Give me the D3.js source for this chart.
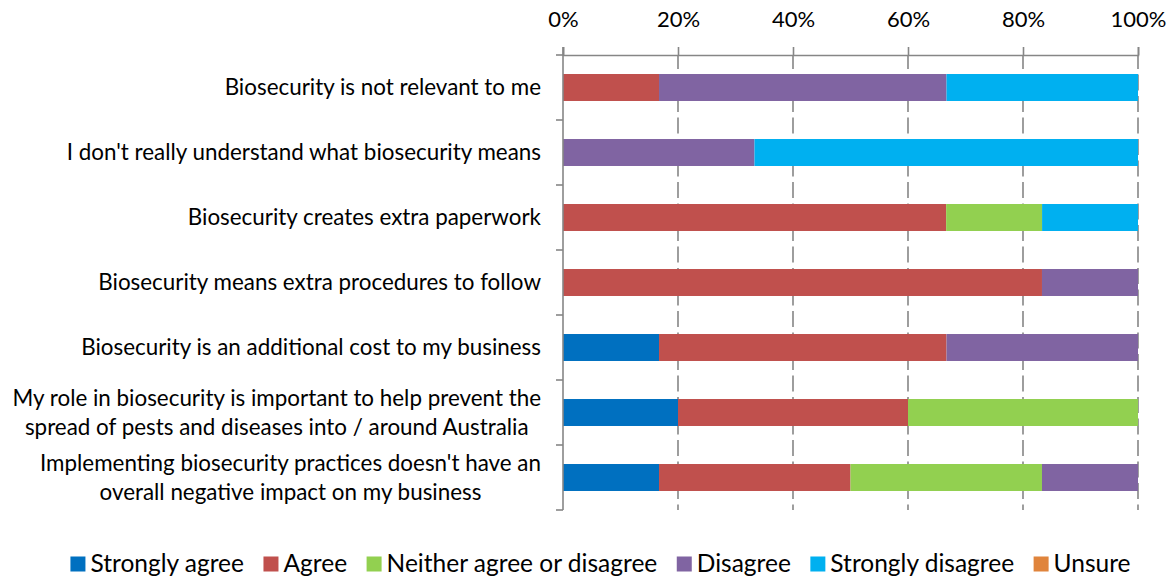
<!DOCTYPE html>
<html>
<head>
<meta charset="utf-8">
<script src="https://cdn.jsdelivr.net/npm/d3@7"></script>
<style>
  html, body { margin: 0; padding: 0; background: #fff; }
  svg { display: block; font-family: Lato, "Open Sans", sans-serif; }
</style>
</head>
<body>
<svg id="chart" width="1176" height="578"></svg>
<script>
// Survey statements (top to bottom); "\n" marks a line break in the label
const categories = [
  "Biosecurity is not relevant to me",
  "I don't really understand what biosecurity means",
  "Biosecurity creates extra paperwork",
  "Biosecurity means extra procedures to follow",
  "Biosecurity is an additional cost to my business",
  "My role in biosecurity is important to help prevent the\nspread of pests and diseases into / around Australia",
  "Implementing biosecurity practices doesn't have an\noverall negative impact on my business"
];

// Share of responses (%) per statement
const stronglyAgree    = [0,    0,    0,    0,    16.7, 20, 16.7];
const agree            = [16.7, 0,    66.7, 83.3, 50,   40, 33.3];
const neither          = [0,    0,    16.7, 0,    0,    40, 33.3];
const disagree         = [50,   33.3, 0,    16.7, 33.3, 0,  16.7];
const stronglyDisagree = [33.3, 66.7, 16.7, 0,    0,    0,  0];
const unsure           = [0,    0,    0,    0,    0,    0,  0];

const seriesNames = ["Strongly agree", "Agree", "Neither agree or disagree", "Disagree", "Strongly disagree", "Unsure"];
const seriesValues = [stronglyAgree, agree, neither, disagree, stronglyDisagree, unsure];
const seriesColors = ["#0070C0", "#C0504D", "#92D050", "#8064A2", "#00B0F0", "#E0843C"];

const tickValues = [0, 0.2, 0.4, 0.6, 0.8, 1];

// Rows for d3.stack
const rows = categories.map((c, i) => {
  const r = { category: c };
  seriesNames.forEach((s, j) => { r[s] = seriesValues[j][i]; });
  return r;
});

const stacked = d3.stack()
  .keys(seriesNames)
  .offset(d3.stackOffsetExpand)(rows);

const svg = d3.select("#chart");
const margin = { top: 55, left: 563, right: 38 };
const W = 1176;
const plotBottom = margin.top + 65 * categories.length;

const x = d3.scaleLinear().domain([0, 1]).range([margin.left, W - margin.right]);
const y = d3.scaleBand().domain(categories).range([margin.top, plotBottom]).paddingInner(0.585).paddingOuter(0.2925);

const labelSize = 22.4;
const tickSize = 22;
const legendSize = 24.5;
const gridColor = "#868686";

// Dashed vertical gridlines
svg.append("g")
  .selectAll("line")
  .data(tickValues.slice(1))
  .join("line")
  .attr("x1", d => x(d)).attr("x2", d => x(d))
  .attr("y1", margin.top).attr("y2", plotBottom)
  .attr("stroke", gridColor)
  .attr("stroke-width", 1.6)
  .attr("stroke-dasharray", "16,5.5")
  .attr("stroke-dashoffset", 2);

// Stacked bars
svg.append("g")
  .selectAll("g")
  .data(stacked)
  .join("g")
  .attr("fill", (d, i) => seriesColors[i])
  .selectAll("rect")
  .data(d => d)
  .join("rect")
  .attr("x", d => x(d[0]))
  .attr("width", d => Math.max(0, x(d[1]) - x(d[0])))
  .attr("y", d => y(d.data.category))
  .attr("height", y.bandwidth());

// Top percentage axis
const xAxis = svg.append("g")
  .attr("transform", `translate(0,${margin.top})`)
  .call(d3.axisTop(x).tickValues(tickValues).tickFormat(d3.format(".0%")).tickSize(8).tickPadding(20));
xAxis.select(".domain").attr("stroke", gridColor).attr("stroke-width", 1.6);
xAxis.selectAll(".tick line").attr("stroke", gridColor).attr("stroke-width", 1.6);
xAxis.selectAll(".tick text")
  .attr("fill", "#000")
  .style("font-size", tickSize + "px")
  .style("font-family", "Lato, 'Open Sans', sans-serif");

// Left category axis: line plus boundary ticks between rows
const yAxis = svg.append("g");
yAxis.append("line")
  .attr("x1", margin.left).attr("x2", margin.left)
  .attr("y1", margin.top - 8).attr("y2", plotBottom)
  .attr("stroke", gridColor).attr("stroke-width", 1.6);
const boundaries = d3.range(categories.length + 1).map(i => margin.top + i * y.step());
yAxis.selectAll("line.tick")
  .data(boundaries)
  .join("line")
  .attr("class", "tick")
  .attr("x1", margin.left - 7).attr("x2", margin.left)
  .attr("y1", d => d).attr("y2", d => d)
  .attr("stroke", gridColor).attr("stroke-width", 1.6);

// Category labels: block right-aligned at the axis, wrapped lines centred within the block
const lineHeight = 29;
const labelRight = margin.left - 22;
const labels = svg.append("g")
  .selectAll("text")
  .data(categories)
  .join("text")
  .attr("fill", "#000")
  .style("font-size", labelSize + "px");
labels.each(function(d) {
  const lines = d.split("\n");
  const cy = y(d) + y.bandwidth() / 2;
  const t = d3.select(this);
  const spans = lines.map((ln, k) => t.append("tspan")
    .attr("y", cy + (k - (lines.length - 1) / 2) * lineHeight)
    .attr("dy", "0.35em")
    .text(ln));
  const maxW = d3.max(spans, s => s.node().getComputedTextLength());
  t.attr("text-anchor", "middle");
  spans.forEach(s => s.attr("x", labelRight - maxW / 2));
});

// Legend along the bottom, centred
const legend = svg.append("g");
const sw = 15, gapText = 5, gapItem = 19.5;
const items = legend.selectAll("g")
  .data(seriesNames)
  .join("g");
items.append("rect")
  .attr("width", sw).attr("height", sw)
  .attr("fill", (d, i) => seriesColors[i]);
items.append("text")
  .attr("x", sw + gapText)
  .attr("y", sw)
  .attr("fill", "#000")
  .style("font-size", legendSize + "px")
  .text(d => d);
const widths = [];
items.each(function() {
  widths.push(sw + gapText + d3.select(this).select("text").node().getComputedTextLength());
});
const total = d3.sum(widths) + gapItem * (widths.length - 1);
let offset = 600.5 - total / 2;
items.attr("transform", (d, i) => {
  const tx = offset;
  offset += widths[i] + gapItem;
  return `translate(${tx},${556.5})`;
});
</script>
</body>
</html>
